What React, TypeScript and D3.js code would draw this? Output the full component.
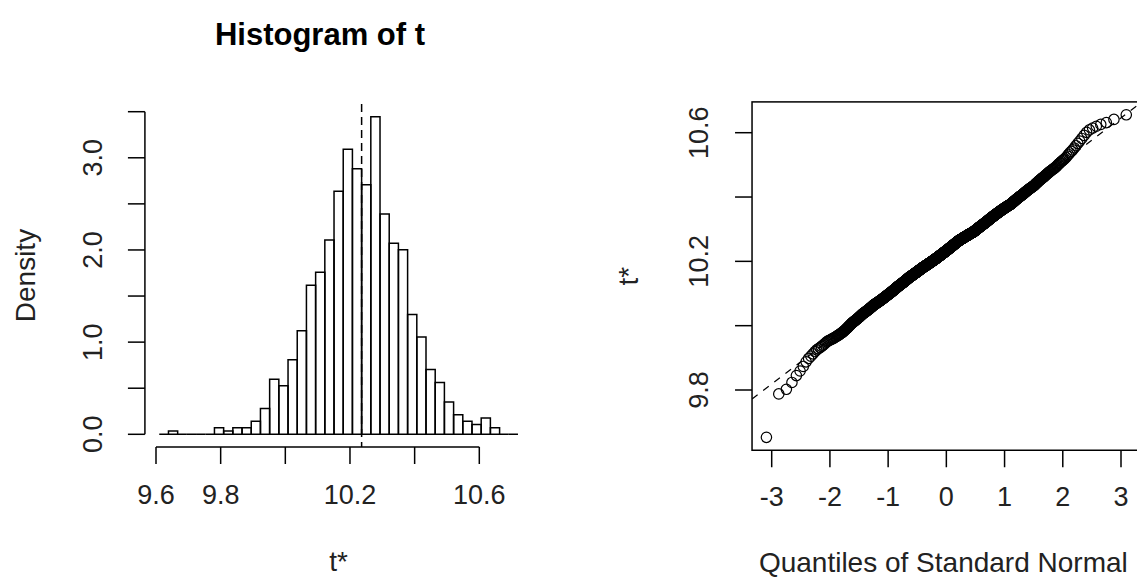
import React from "react";
import * as d3 from "d3";

const t0 = 10.236;
const binWidth = 0.02845;
const firstBreak = t0 - 22 * binWidth;
const binCounts = [
  0, 1, 0, 0, 0, 0, 2, 1, 2, 2, 4, 8, 17, 15, 23, 32, 46, 50, 60, 75,
  88, 82, 77, 98, 68, 59, 57, 37, 30, 20, 16, 10, 6, 4, 3, 5, 2, 0, 0,
];

const histXTicks = [9.6, 9.8, 10.0, 10.2, 10.4, 10.6];
const histXLabels = ["9.6", "9.8", "", "10.2", "", "10.6"];
const histYTicks = [0, 0.5, 1, 1.5, 2, 2.5, 3, 3.5];
const histYLabels = ["0.0", "", "1.0", "", "2.0", "", "3.0", ""];
const qqXTicks = [-3, -2, -1, 0, 1, 2, 3];
const qqXLabels = ["-3", "-2", "-1", "0", "1", "2", "3"];
const qqYTicks = [9.8, 10.0, 10.2, 10.4, 10.6];
const qqYLabels = ["9.8", "", "10.2", "", "10.6"];

const W = 1137;
const H = 587;
const FONT = "'Liberation Sans', Arial, sans-serif";
const TICK = 17;

// inverse normal cdf (Acklam)
function qnorm(p: number): number {
  const a = [-39.69683028665376, 220.9460984245205, -275.9285104469687, 138.357751867269, -30.66479806614716, 2.506628277459239];
  const b = [-54.47609879822406, 161.5858368580409, -155.6989798598866, 66.80131188771972, -13.28068155288572];
  const c = [-0.007784894002430293, -0.3223964580411365, -2.400758277161838, -2.549732539343734, 4.374664141464968, 2.938163982698783];
  const d = [0.007784695709041462, 0.3224671290700398, 2.445134137142996, 3.754408661907416];
  const lo = 0.02425;
  if (p < lo || p > 1 - lo) {
    const q = Math.sqrt(-2 * Math.log(p < lo ? p : 1 - p));
    const v = (((((c[0] * q + c[1]) * q + c[2]) * q + c[3]) * q + c[4]) * q + c[5]) /
      ((((d[0] * q + d[1]) * q + d[2]) * q + d[3]) * q + 1);
    return p < lo ? v : -v;
  }
  const q = p - 0.5;
  const r = q * q;
  return ((((((a[0] * r + a[1]) * r + a[2]) * r + a[3]) * r + a[4]) * r + a[5]) * q) /
    (((((b[0] * r + b[1]) * r + b[2]) * r + b[3]) * r + b[4]) * r + 1);
}

// R's default 4% axis padding
const pad = (ext: [number, number]): [number, number] => {
  const e = (ext[1] - ext[0]) * 0.04;
  return [ext[0] - e, ext[1] + e];
};

export default function App() {
  const n = d3.sum(binCounts);
  const bins = binCounts.map((count, i) => {
    const x0 = firstBreak + i * binWidth;
    return { x0, x1: x0 + binWidth, count, density: count / (n * binWidth) };
  });

  // sorted replicates, each bin's values laid evenly inside it
  const tSorted: number[] = [];
  bins.forEach((b) => {
    for (let j = 0; j < b.count; j++) tSorted.push(b.x0 + ((j + 0.5) / b.count) * binWidth);
  });
  const qq = tSorted.map((v, i) => ({ q: qnorm((i + 1) / (n + 1)), v }));
  const tMean = d3.mean(tSorted) as number;
  const tSd = d3.deviation(tSorted) as number;

  // ---- histogram panel
  const hx = d3.scaleLinear().domain([9.6, 10.6]).range([156, 479.3]);
  const hy = d3.scaleLinear().domain([0, 3.5]).range([434.3, 111.7]);
  const hxLim = pad([bins[0].x0, bins[bins.length - 1].x1]);
  const hyLim = pad([0, d3.max(bins, (b) => b.density) as number]);
  const hLeft = hx(hxLim[0]);
  const hRight = hx(hxLim[1]);
  const hTop = hy(hyLim[1]);
  const hBottom = hy(hyLim[0]);

  // ---- qq panel
  const qx = d3.scaleLinear().domain([-3, 3]).range([771.7, 1121]);
  const qy = d3.scaleLinear().domain([9.8, 10.6]).range([390, 132.7]);
  const qxLim = pad(d3.extent(qq, (d) => d.q) as [number, number]);
  const qyLim = pad(d3.extent(qq, (d) => d.v) as [number, number]);
  const qLeft = qx(qxLim[0]);
  const qRight = qx(qxLim[1]);
  const qTop = qy(qyLim[1]);
  const qBottom = qy(qyLim[0]);

  const lw = 1.5;

  return (
    <svg
      width={W}
      height={H}
      style={{ position: "absolute", left: 0, top: 0, background: "#fff" }}
      fontFamily={FONT}
    >
      <defs>
        <clipPath id="qqclip">
          <rect x={qLeft} y={qTop} width={qRight - qLeft} height={qBottom - qTop} />
        </clipPath>
      </defs>
      <rect width={W} height={H} fill="#fff" />

      {/* histogram */}
      <text x={320} y={34} dy="0.35em" textAnchor="middle" fontWeight="bold" fontSize={31}>
        Histogram of t
      </text>
      <g fill="none" stroke="#000" strokeWidth={lw}>
        {bins.map((b, i) => (
          <path
            key={i}
            d={`M${hx(b.x0)},${hy(0)}V${hy(b.density)}H${hx(b.x1)}V${hy(0)}Z`}
          />
        ))}
        <line x1={hx(t0)} x2={hx(t0)} y1={hTop} y2={hBottom} strokeDasharray="8,5" />
        {/* x axis */}
        <line x1={hx(histXTicks[0])} x2={hx(histXTicks[histXTicks.length - 1])} y1={hBottom} y2={hBottom} />
        {histXTicks.map((t) => (
          <line key={t} x1={hx(t)} x2={hx(t)} y1={hBottom} y2={hBottom + TICK} />
        ))}
        {/* y axis */}
        <line x1={hLeft} x2={hLeft} y1={hy(histYTicks[0])} y2={hy(histYTicks[histYTicks.length - 1])} />
        {histYTicks.map((t) => (
          <line key={t} x1={hLeft - TICK} x2={hLeft} y1={hy(t)} y2={hy(t)} />
        ))}
      </g>
      <g fontSize={27} fill="#222" textAnchor="middle">
        {histXTicks.map((t, i) => (
          <text key={t} x={hx(t)} y={hBottom + 48} dy="0.35em">{histXLabels[i]}</text>
        ))}
        {histYTicks.map((t, i) => (
          <text key={t} transform={`translate(${hLeft - 52},${hy(t)}) rotate(-90)`} dy="0.35em">
            {histYLabels[i]}
          </text>
        ))}
      </g>
      <g fontSize={28} fill="#222" textAnchor="middle">
        <text x={(hLeft + hRight) / 2} y={hBottom + 114} dy="0.35em">t*</text>
        <text transform={`translate(${hLeft - 120},${(hTop + hBottom) / 2}) rotate(-90)`} dy="0.35em">
          Density
        </text>
      </g>

      {/* normal qq plot */}
      <g fill="none" stroke="#000" strokeWidth={lw}>
        <rect x={qLeft} y={qTop} width={qRight - qLeft} height={qBottom - qTop} />
        <g clipPath="url(#qqclip)">
          <line
            x1={qLeft}
            x2={qRight}
            y1={qy(tMean + tSd * qxLim[0])}
            y2={qy(tMean + tSd * qxLim[1])}
            strokeDasharray="7,7"
            strokeWidth={1.2}
          />
          {qq.map((d, i) => (
            <circle key={i} cx={qx(d.q)} cy={qy(d.v)} r={5.2} strokeWidth={1.2} />
          ))}
        </g>
        {qqXTicks.map((t) => (
          <line key={t} x1={qx(t)} x2={qx(t)} y1={qBottom} y2={qBottom + TICK} />
        ))}
        {qqYTicks.map((t) => (
          <line key={t} x1={qLeft - TICK} x2={qLeft} y1={qy(t)} y2={qy(t)} />
        ))}
      </g>
      <g fontSize={27} fill="#222" textAnchor="middle">
        {qqXTicks.map((t, i) => (
          <text key={t} x={qx(t)} y={qBottom + 46} dy="0.35em">{qqXLabels[i]}</text>
        ))}
        {qqYTicks.map((t, i) => (
          <text key={t} transform={`translate(${qLeft - 53},${qy(t)}) rotate(-90)`} dy="0.35em">
            {qqYLabels[i]}
          </text>
        ))}
      </g>
      <g fontSize={28} fill="#222" textAnchor="middle">
        <text x={(qLeft + qRight) / 2 - 3} y={qBottom + 112} dy="0.35em">Quantiles of Standard Normal</text>
        <text transform={`translate(${qLeft - 124},${(qTop + qBottom) / 2}) rotate(-90)`} dy="0.35em">
          t*
        </text>
      </g>
    </svg>
  );
}
